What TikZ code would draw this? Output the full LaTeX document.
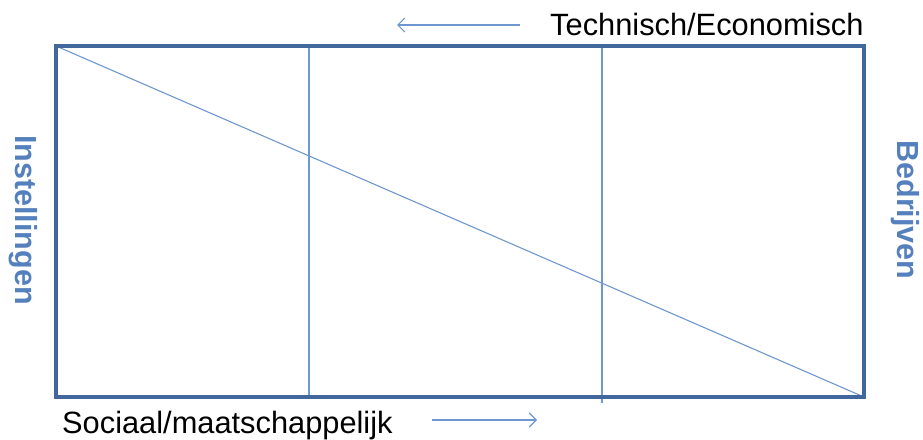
\documentclass[tikz,border=0pt]{standalone}
\usepackage{fontspec}
\setmainfont{Liberation Sans}
\usetikzlibrary{arrows.meta}
\definecolor{frameblue}{HTML}{41679C}
\definecolor{lineblue}{HTML}{6F97CF}
\definecolor{labelblue}{HTML}{5580BE}
\tikzset{
  frame/.style={draw=frameblue, line width=3.6pt, line join=miter},
  thinline/.style={draw=lineblue, line width=1.1pt},
  flow/.style={draw=lineblue, line width=1.2pt, -{Straight Barb[length=7pt,width=14pt,line width=1.2pt]}},
  axislabel/.style={inner sep=0pt, font=\fontsize{30.8}{36}\selectfont, text=black},
  sidelabel/.style={inner sep=0pt, rotate=-90, font=\fontsize{30.5}{36}\selectfont\bfseries, text=labelblue}
}
\begin{document}
\begin{tikzpicture}[x=1pt,y=-1pt]
  \useasboundingbox (0,0) rectangle (923,439);
  % corners of the frame
  \coordinate (tl) at (56,46);
  \coordinate (tr) at (864,46);
  \coordinate (bl) at (56,397);
  \coordinate (br) at (864,397);
  % ends of the two dividers
  \coordinate (v1t) at (309,46);
  \coordinate (v1b) at (309,397);
  \coordinate (v2t) at (602,46);
  \coordinate (v2b) at (602,403);
  % ends of the two direction arrows
  \coordinate (a1s) at (520,25);
  \coordinate (a1e) at (397,25);
  \coordinate (a2s) at (432,420);
  \coordinate (a2e) at (537,420);

  \draw[thinline] (tl) -- (br);
  \draw[thinline] (v1t) -- (v1b);
  \draw[thinline] (v2t) -- (v2b);
  \draw[frame] (tl) rectangle (br);

  \draw[flow] (a1s) -- (a1e);
  \draw[flow] (a2s) -- (a2e);

  \node[axislabel, anchor=base west] (tech) at (550,35) {Technisch/Economisch};
  \node[axislabel, anchor=base west] (soc) at (62,433) {Sociaal/maatschappelijk};
  \node[sidelabel, anchor=base] (inst) at (15,220) {Instellingen};
  \node[sidelabel, anchor=base] (bedr) at (897,210) {Bedrijven};
\end{tikzpicture}
\end{document}
